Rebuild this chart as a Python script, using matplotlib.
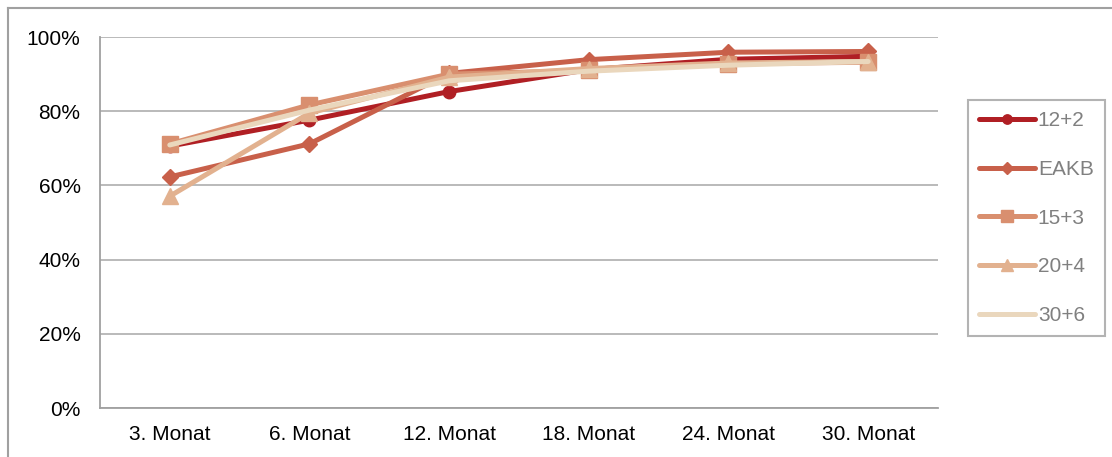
import matplotlib.pyplot as plt
from matplotlib.lines import Line2D

plt.rcParams['font.family'] = ['Liberation Sans', 'DejaVu Sans']

months = ["3. Monat", "6. Monat", "12. Monat", "18. Monat", "24. Monat", "30. Monat"]
s_12_2 = [70.6, 77.6, 85.3, 91.2, 94.0, 94.8]
s_eakb = [62.3, 71.2, 90.2, 93.9, 95.9, 96.1]
s_15_3 = [71.2, 81.7, 90.0, 91.0, 92.8, 93.2]
s_20_4 = [57.1, 79.5, 89.2, 91.5, 93.0, 93.4]
s_30_6 = [70.9, 80.3, 88.2, 90.8, 92.4, 93.4]

labels = ["12+2", "EAKB", "15+3", "20+4", "30+6"]
colors = ["#B01F24", "#C8604A", "#D98F6F", "#E2B18F", "#EAD7BD"]
markers = ["o", "D", "s", "^", None]
msizes = [9, 8, 11, 12, 0]

fig = plt.figure(figsize=(11.12, 4.57), dpi=100)
ax = fig.add_axes([0.0899, 0.1072, 0.7536, 0.8118])

# outer chart border (top and left visible)
fig.add_artist(Line2D([8/1112, 1], [1 - 8/457, 1 - 8/457], color="#A0A0A0", lw=1.5, transform=fig.transFigure))
fig.add_artist(Line2D([8/1112, 8/1112], [0, 1 - 8/457], color="#A0A0A0", lw=1.5, transform=fig.transFigure))

x = list(range(len(months)))
series = [s_12_2, s_eakb, s_15_3, s_20_4, s_30_6]
for vals, lab, c, m, ms in zip(series, labels, colors, markers, msizes):
    ax.plot(x, vals, color=c, lw=3.6, marker=m, markersize=ms, label=lab,
            solid_capstyle="round")

ax.set_xlim(-0.5, len(months) - 0.5)
ax.set_ylim(0, 100)
ax.set_yticks(range(0, 101, 20))
ax.set_yticklabels([f"{v}%" for v in range(0, 101, 20)])
ax.set_xticks(x)
ax.set_xticklabels(months)
ax.tick_params(axis="both", length=0, labelsize=15, pad=12)
ax.tick_params(axis="y", pad=14)
ax.grid(axis="y", color="#B4B4B4", lw=1.3)
ax.set_axisbelow(True)
for side in ["top", "right"]:
    ax.spines[side].set_visible(False)
for side in ["left", "bottom"]:
    ax.spines[side].set_color("#A0A0A0")
    ax.spines[side].set_linewidth(1.3)

leg = ax.legend(loc="upper left", bbox_to_anchor=(968/1112, 1 - 100/457), bbox_transform=fig.transFigure,
                frameon=True, fancybox=False, fontsize=15, labelspacing=1.42,
                handlelength=2.65, handletextpad=0.15, borderpad=0.55, borderaxespad=0,
                markerscale=0.75)
leg.get_frame().set_edgecolor("#A0A0A0")
leg.get_frame().set_linewidth(1.5)
for t in leg.get_texts():
    t.set_color("#808080")

fig.savefig("out.png", dpi=100)
